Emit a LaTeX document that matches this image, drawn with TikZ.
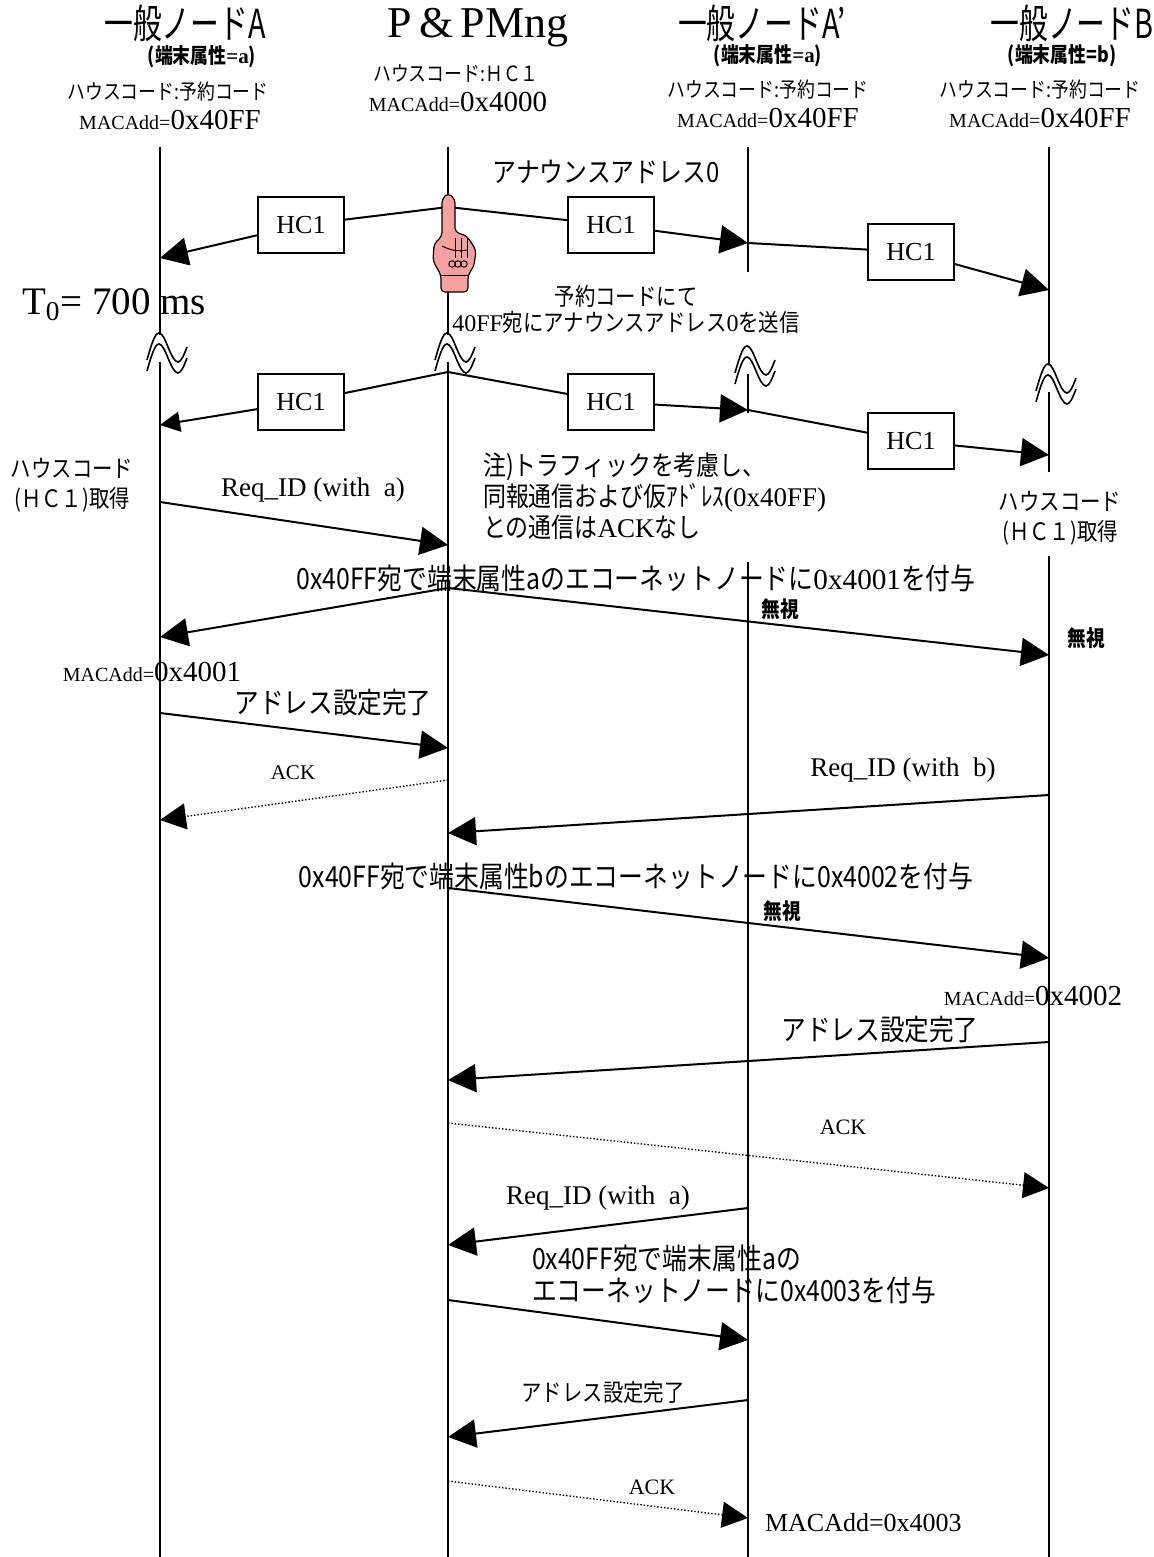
\documentclass[tikz,border=0pt]{standalone}
\usepackage{fontspec}
\setmainfont{Liberation Serif}
\newfontfamily\jfont[FakeStretch=0.85]{Noto Sans CJK JP}
\newfontfamily\jhead[FakeStretch=0.72]{Noto Sans CJK JP}
\usetikzlibrary{arrows.meta}
\definecolor{handpink}{RGB}{247,160,160}

% x of the four lifelines
\newcommand{\xA}{160}
\newcommand{\xP}{448}
\newcommand{\xAp}{748}
\newcommand{\xB}{1049}

\newcommand{\rmtxt}[1]{{\rmfamily #1}}
\newcommand{\macadd}[1]{{\fontsize{10}{12}\selectfont MACAdd=}{\fontsize{14.5}{16}\selectfont #1}}
\newcommand{\wavebreak}[2]{% lifeline x, top y
  \foreach \d in {0,11}
    \draw[wave] (#1-13,#2+27+\d) sin (#1-1,#2+\d) cos (#1+8,#2+14+\d)
                sin (#1+18,#2+29+\d) cos (#1+27,#2+14+\d);
}

\tikzset{
  life/.style={line width=0.75pt},
  wave/.style={line width=0.8pt},
  link/.style={line width=1pt},
  msg/.style={line width=1pt,-{Triangle[length=14pt,width=14pt]}},
  msgsmall/.style={line width=1pt,-{Triangle[length=10pt,width=10pt]}},
  ack/.style={line width=0.7pt,densely dotted,-{Triangle[length=13pt,width=13pt]}},
  hcbox/.style={draw,line width=1pt,fill=white,minimum width=43pt,minimum height=28pt,
    inner sep=0pt,font=\fontsize{13}{15}\selectfont},
  head/.style={font=\jhead\fontsize{20}{22}\selectfont},
  attr/.style={font=\jfont\bfseries\fontsize{10.5}{12}\selectfont},
  code/.style={font=\jfont\fontsize{10.5}{12}\selectfont},
  hcget/.style={font=\jfont\fontsize{12}{15}\selectfont,align=center},
  jsmall/.style={font=\jfont\fontsize{12}{13}\selectfont,align=center},
  jnote/.style={font=\jfont\fontsize{13.5}{15.5}\selectfont,align=left},
  jbig/.style={font=\jfont\fontsize{14.6}{16}\selectfont},
  jlab/.style={font=\jfont\fontsize{14.5}{16}\selectfont},
  ign/.style={font=\jfont\bfseries\fontsize{11}{12}\selectfont},
  rq/.style={font=\fontsize{13.5}{15}\selectfont},
  acklab/.style={font=\fontsize{10.5}{12}\selectfont},
  hand/.style={fill=handpink,draw=black,line width=0.6pt},
}

\begin{document}
\begin{tikzpicture}[x=0.5pt,y=-0.5pt]
  \useasboundingbox (0,0) rectangle (1154,1557);

  % lifelines, broken where text or the wave marks sit
  \foreach \x/\ya/\yb in {\xA/147/335, \xA/362/1557, \xP/147/335, \xP/362/1557,
      \xAp/147/272, \xAp/374/413, \xAp/562/1557,
      \xB/147/365, \xB/392/472, \xB/556/1557}
    \draw[life] (\x,\ya) -- (\x,\yb);
  \wavebreak{\xA}{333}
  \wavebreak{\xP}{333}
  \wavebreak{\xAp}{346}
  \wavebreak{\xB}{364}

  % headers
  \node[head] (hA) at (185,23) {一般ノードA};
  \node[attr] (hAattr) at (202,57) {(端末属性\rmtxt{=a})};
  \node[code] (hAcode) at (168,92) {ハウスコード:予約コード};
  \node (hAmac) at (170,120) {\macadd{0x40FF}};

  \node[font=\fontsize{22}{24}\selectfont] (hP) at (478,28) {P\,\&\,PMng};
  \node[code] (hPcode) at (456,74) {ハウスコード:ＨＣ１};
  \node (hPmac) at (458,102) {\macadd{0x4000}};

  \node[head] (hAp) at (762,23) {一般ノードA’};
  \node[attr] (hApattr) at (768,56) {(端末属性\rmtxt{=a})};
  \node[code] (hApcode) at (768,90) {ハウスコード:予約コード};
  \node (hApmac) at (768,118) {\macadd{0x40FF}};

  \node[head] (hB) at (1072,23) {一般ノードB};
  \node[attr] (hBattr) at (1062,56) {(端末属性=b)};
  \node[code] (hBcode) at (1040,90) {ハウスコード:予約コード};
  \node (hBmac) at (1040,118) {\macadd{0x40FF}};

  % end points on the lifelines
  \foreach \n/\x/\y in {o1/\xP/207, a1/\xA/258, ap1/\xAp/243, b1/\xB/290,
      o2/\xP/372, a2/\xA/425, ap2/\xAp/410, b2/\xB/455,
      m1s/\xA/502, m1e/\xP/545, m2s/\xP/588, m2a/\xA/637, m2b/\xB/655,
      m3s/\xA/713, m3e/\xP/748, m4s/\xP/780, m4e/\xA/820,
      m5s/\xB/795, m5e/\xP/833, m6s/\xP/888, m6e/\xB/958,
      m7s/\xB/1042, m7e/\xP/1080, m8s/\xP/1123, m8e/\xB/1188,
      m9s/\xAp/1208, m9e/\xP/1245, m10s/\xP/1300, m10e/\xAp/1340,
      m11s/\xAp/1400, m11e/\xP/1437, m12s/\xP/1481, m12e/\xAp/1518}
    \coordinate (\n) at (\x,\y);

  % announce, first round
  \node[jlab,font=\jfont\fontsize{14}{16}\selectfont] (ann) at (606,172) {アナウンスアドレス0};
  \node[hcbox] (hc11) at (301,225) {HC1};
  \node[hcbox] (hc12) at (611,225) {HC1};
  \node[hcbox] (hc13) at (911,252) {HC1};
  \draw[link] (o1) -- (hc11);
  \draw[msg] (hc11) -- (a1);
  \draw[link] (o1) -- (hc12);
  \draw[msg] (hc12) -- (ap1);
  \draw[link] (ap1) -- (hc13);
  \draw[msg] (hc13) -- (b1);

  \node[font=\fontsize{19.5}{21}\selectfont] (t0) at (114,305) {T\textsubscript{0}= 700 ms};
  \node[jsmall] (resv) at (626,309) {予約コードにて\\\rmtxt{40FF}宛にアナウンスアドレス\rmtxt{0}を送信};

  % announce, second round
  \node[hcbox] (hc21) at (301,402) {HC1};
  \node[hcbox] (hc22) at (611,402) {HC1};
  \node[hcbox] (hc23) at (911,441) {HC1};
  \draw[link] (o2) -- (hc21);
  \draw[msgsmall] (hc21) -- (a2);
  \draw[link] (o2) -- (hc22);
  \draw[msg] (hc22) -- (ap2);
  \draw[link] (ap2) -- (hc23);
  \draw[msg] (hc23) -- (b2);

  \node[hcget] (getA) at (72,485) {ハウスコード\\(ＨＣ１)取得};
  \node[hcget] (getB) at (1060,518) {ハウスコード\\(ＨＣ１)取得};
  \node[jnote,anchor=west] (note) at (476,496)
    {注)トラフィックを考慮し、\\同報通信および仮ｱﾄﾞﾚｽ\rmtxt{(0x40FF)}\\との通信は\rmtxt{ACK}なし};

  % node A
  \node[rq] (lr1) at (313,490) {Req\_ID (with\ \ a)};
  \draw[msg] (m1s) -- (m1e);
  \node[jbig] (lg1) at (636,578) {0x40FF宛で端末属性aのエコーネットノードに\rmtxt{0x4001}を付与};
  \draw[msg] (m2s) -- (m2a);
  \draw[msg] (m2s) -- (m2b);
  \node[ign] (ig1) at (780,609) {無視};
  \node[ign] (ig2) at (1086,638) {無視};
  \node (macA) at (152,672) {\macadd{0x4001}};
  \node[jlab] (done1) at (333,703) {アドレス設定完了};
  \draw[msg] (m3s) -- (m3e);
  \node[acklab] (ack1) at (293,773) {ACK};
  \draw[ack] (m4s) -- (m4e);

  % node B
  \node[rq] (lr2) at (903,770) {Req\_ID (with\ \ b)};
  \draw[msg] (m5s) -- (m5e);
  \node[jbig] (lg2) at (636,876) {0x40FF宛で端末属性bのエコーネットノードに0x4002を付与};
  \draw[msg] (m6s) -- (m6e);
  \node[ign] (ig3) at (782,911) {無視};
  \node (macB) at (1033,996) {\macadd{0x4002}};
  \node[jlab] (done2) at (880,1030) {アドレス設定完了};
  \draw[msg] (m7s) -- (m7e);
  \node[acklab,font=\fontsize{11}{12}\selectfont] (ack2) at (843,1127) {ACK};
  \draw[ack] (m8s) -- (m8e);

  % node A'
  \node[rq] (lr3) at (598,1198) {Req\_ID (with\ \ a)};
  \draw[msg] (m9s) -- (m9e);
  \node[jbig,align=left,anchor=west] (lg3) at (525,1274)
    {0x40FF宛で端末属性aの\\エコーネットノードに0x4003を付与};
  \draw[msg] (m10s) -- (m10e);
  \node[jlab,font=\jfont\fontsize{12}{14}\selectfont] (done3) at (603,1392) {アドレス設定完了};
  \draw[msg] (m11s) -- (m11e);
  \node[acklab,font=\fontsize{11}{12}\selectfont] (ack3) at (652,1487) {ACK};
  \draw[ack] (m12s) -- (m12e);
  \node[font=\fontsize{13}{15}\selectfont,anchor=west] (macAp) at (758,1523) {MACAdd=0x4003};

  % pointing hand on the P&PMng lifeline
  \draw[hand,rounded corners=2pt] (441,292) -- (441,275) -- (433,261) -- (434,244) -- (442,236)
    -- (442,199) -- (448,193) -- (455,199) -- (455,232) -- (467,236) -- (476,250)
    -- (474,266) -- (468,275) -- (468,292) -- cycle;
  \foreach \k in {455,461,467}
    \draw[line width=0.5pt] (\k,238) -- (\k,258);
  \foreach \k in {452,458,464}
    \draw[line width=0.5pt] (\k,264) circle (1.6pt);
  \draw[line width=0.5pt] (442,246) .. controls (450,250) and (458,252) .. (467,250);
  \draw[line width=0.5pt] (441,275) -- (468,275);
\end{tikzpicture}
\end{document}
